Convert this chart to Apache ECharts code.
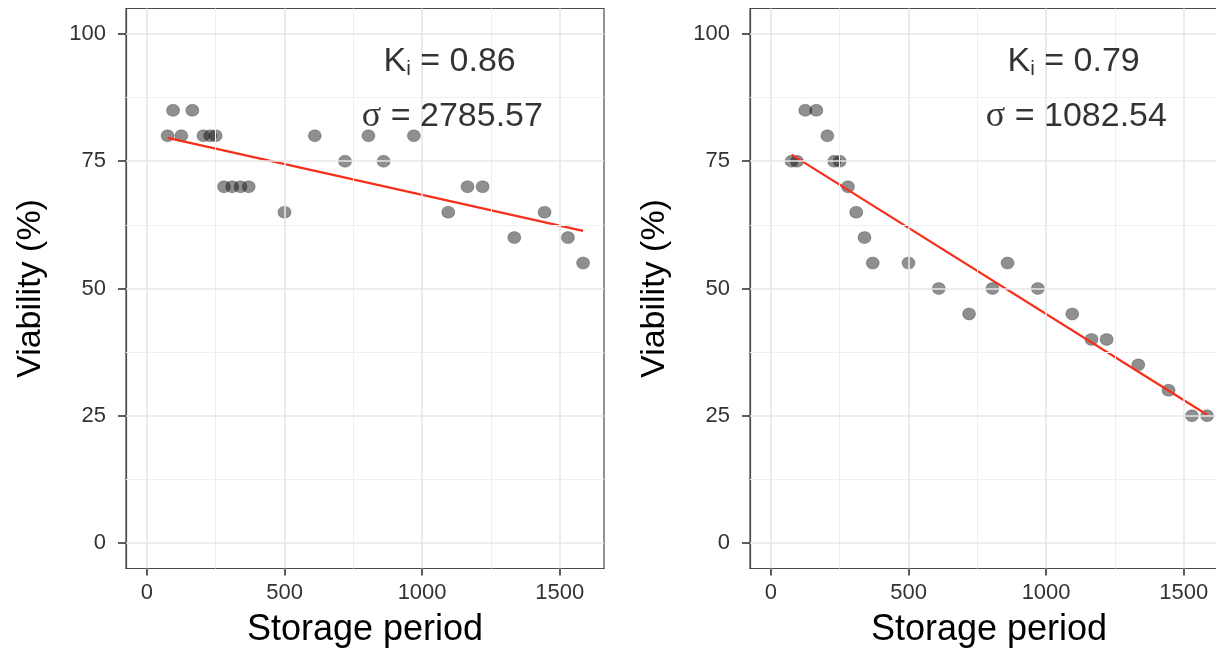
<!DOCTYPE html>
<html><head><meta charset="utf-8">
<script src="https://cdn.jsdelivr.net/npm/echarts@6/dist/echarts.min.js"></script>
<style>html,body{margin:0;padding:0;background:#fff}#c{width:1216px;height:648px}</style>
</head><body><div id="c"></div>
<script>
// ---- data ----
const storageDays = [75, 95, 125, 165, 205, 230, 250, 280, 310, 340, 370, 500, 610, 720, 805, 860, 970, 1095, 1165, 1220, 1335, 1445, 1530, 1585];
const viabilityLeft = [80, 85, 80, 85, 80, 80, 80, 70, 70, 70, 70, 65, 80, 75, 80, 75, 80, 65, 70, 70, 60, 65, 60, 55];
const viabilityRight = [75, 75, 85, 85, 80, 75, 75, 70, 65, 60, 55, 55, 50, 45, 50, 55, 50, 45, 40, 40, 35, 30, 25, 25];
const fitX = [75, 1585];
const fitLeft = [79.6, 61.3];
const fitRight = [76.3, 25.2];
const kiValues = ['0.86', '0.79'];
const sigmaValues = ['2785.57', '1082.54'];
const xTicks = [0, 500, 1000, 1500];
const xMinor = [250, 750, 1250];
const yTicks = [0, 25, 50, 75, 100];
const yMinor = [12.5, 37.5, 62.5, 87.5];
const xTitle = 'Storage period';
const yTitle = 'Viability (%)';

const FONT = 'Liberation Sans';
const viabilities = [viabilityLeft, viabilityRight];
const fits = [fitLeft, fitRight];
const gridLefts = [126, 750];

const grids = [], xAxes = [], yAxes = [], series = [];
for (let p = 0; p < 2; p++) {
  grids.push({left: gridLefts[p], top: 8.5, width: 478, height: 560, show: true,
    outerBoundsMode: 'none', containLabel: false,
    borderColor: '#4a4a4a', borderWidth: 1.2, backgroundColor: 'transparent'});
  xAxes.push({gridIndex: p, type: 'value', min: -76, max: 1661, position: 'bottom',
    name: xTitle, nameLocation: 'middle', nameGap: 44,
    nameTextStyle: {fontFamily: FONT, fontSize: 36, color: '#000'},
    axisLine: {show: true, onZero: false, lineStyle: {color: '#4a4a4a', width: 1.2}}, splitLine: {show: false},
    axisTick: {show: true, length: 7, customValues: xTicks, lineStyle: {color: '#333', width: 1.6}},
    axisLabel: {customValues: xTicks, formatter: v => String(v), fontFamily: FONT, fontSize: 22, color: '#333', margin: 13}});
  yAxes.push({gridIndex: p, type: 'value', min: -5, max: 105, position: 'left',
    name: yTitle, nameLocation: 'middle', nameGap: 78,
    nameTextStyle: {fontFamily: FONT, fontSize: 34, color: '#000'},
    axisLine: {show: true, onZero: false, lineStyle: {color: '#4a4a4a', width: 1.2}}, splitLine: {show: false},
    axisTick: {show: true, length: 8, customValues: yTicks, lineStyle: {color: '#333', width: 1.6}},
    axisLabel: {customValues: yTicks, formatter: v => String(v), fontFamily: FONT, fontSize: 22, color: '#333', margin: 20}});
  const major = {color: '#e6e6e6', width: 1.6, type: 'solid'};
  const minor = {color: '#efefef', width: 1, type: 'solid'};
  series.push({type: 'scatter', xAxisIndex: p, yAxisIndex: p, data: [], z: 0, silent: true,
    markLine: {silent: true, symbol: 'none', label: {show: false}, animation: false,
      data: [
        ...xMinor.map(v => ({xAxis: v, lineStyle: minor})),
        ...yMinor.map(v => ({yAxis: v, lineStyle: minor})),
        ...xTicks.map(v => ({xAxis: v, lineStyle: major})),
        ...yTicks.map(v => ({yAxis: v, lineStyle: major}))
      ]}});
  series.push({type: 'scatter', xAxisIndex: p, yAxisIndex: p, z: 3, silent: true,
    symbol: 'circle', symbolSize: [13, 12],
    itemStyle: {color: 'rgba(0,0,0,0.55)', borderColor: 'rgba(0,0,0,0.3)', borderWidth: 1},
    data: storageDays.map((d, i) => [d, viabilities[p][i]])});
  series.push({type: 'line', xAxisIndex: p, yAxisIndex: p, z: 4, silent: true,
    showSymbol: false, symbol: 'none',
    lineStyle: {color: '#f5301c', width: 2.3},
    data: fitX.map((x, i) => [x, fits[p][i]])});
  series.push({type: 'scatter', xAxisIndex: p, yAxisIndex: p, z: 5, silent: true,
    symbolSize: 0,
    data: [[1100, 94.6]],
    label: {show: true, position: 'inside',
      formatter: '{k|K}{s|i}{k| = ' + kiValues[p] + '}',
      rich: {
        k: {fontFamily: FONT, fontSize: 34, color: '#000', lineHeight: 36, verticalAlign: 'middle'},
        s: {fontFamily: FONT, fontSize: 21, color: '#000', lineHeight: 21, verticalAlign: 'bottom'}
      }}});
  series.push({type: 'scatter', xAxisIndex: p, yAxisIndex: p, z: 5, silent: true,
    symbolSize: 0,
    data: [[1110, 83.8]],
    label: {show: true, position: 'inside',
      formatter: '{g|σ}{k| = ' + sigmaValues[p] + '}',
      rich: {
        g: {fontFamily: 'Liberation Serif', fontSize: 36, color: '#000', lineHeight: 36, verticalAlign: 'middle'},
        k: {fontFamily: FONT, fontSize: 34, color: '#000', lineHeight: 36, verticalAlign: 'middle'}
      }}});
}

const chart = echarts.init(document.getElementById('c'), null, {renderer: 'canvas'});
chart.setOption({
  backgroundColor: '#ffffff',
  animation: false,
  grid: grids, xAxis: xAxes, yAxis: yAxes, series: series
});
</script>
</body></html>
